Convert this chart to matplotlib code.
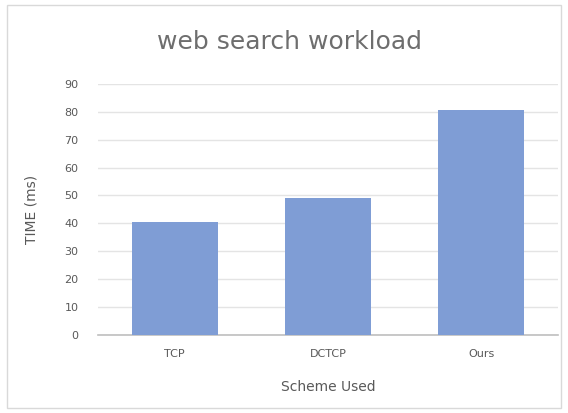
import matplotlib.pyplot as plt
from matplotlib.patches import Rectangle

categories = ["TCP", "DCTCP", "Ours"]
values = [40.5, 49.0, 80.7]
yticks = [0, 10, 20, 30, 40, 50, 60, 70, 80, 90]

text_color = "#595959"
bar_color = "#7F9DD5"

fig = plt.figure(figsize=(5.68, 4.13), dpi=100)
ax = fig.add_axes([0.1725, 0.189, 0.8095, 0.608])

ax.bar(categories, values, width=0.56, color=bar_color, zorder=3)

ax.set_ylim(0, 90)
ax.set_xlim(-0.5, 2.5)
ax.set_yticks(yticks)
ax.yaxis.grid(True, color="#E4E4E4", linewidth=1, zorder=0)
for side in ["top", "right", "left"]:
    ax.spines[side].set_visible(False)
ax.spines["bottom"].set_color("#BFBFBF")
ax.spines["bottom"].set_linewidth(1.2)
ax.tick_params(axis="both", length=0, colors=text_color, labelsize=8)
ax.tick_params(axis="y", pad=14)
ax.tick_params(axis="x", pad=10)

# title centred on the whole chart area, like the spreadsheet chart
fig.text(0.51, 0.898, "web search workload", fontsize=18, color="#6E6E6E",
         ha="center", va="center")
ax.set_xlabel("Scheme Used", fontsize=10, color=text_color, labelpad=15)
ax.set_ylabel("TIME (ms)", fontsize=10, color=text_color, labelpad=19)

# chart border
fig.patches.append(Rectangle((0.012, 0.012), 0.976, 0.976, transform=fig.transFigure,
                             fill=False, edgecolor="#D9D9D9", linewidth=1))

fig.savefig("out.png", dpi=100, facecolor="white")
